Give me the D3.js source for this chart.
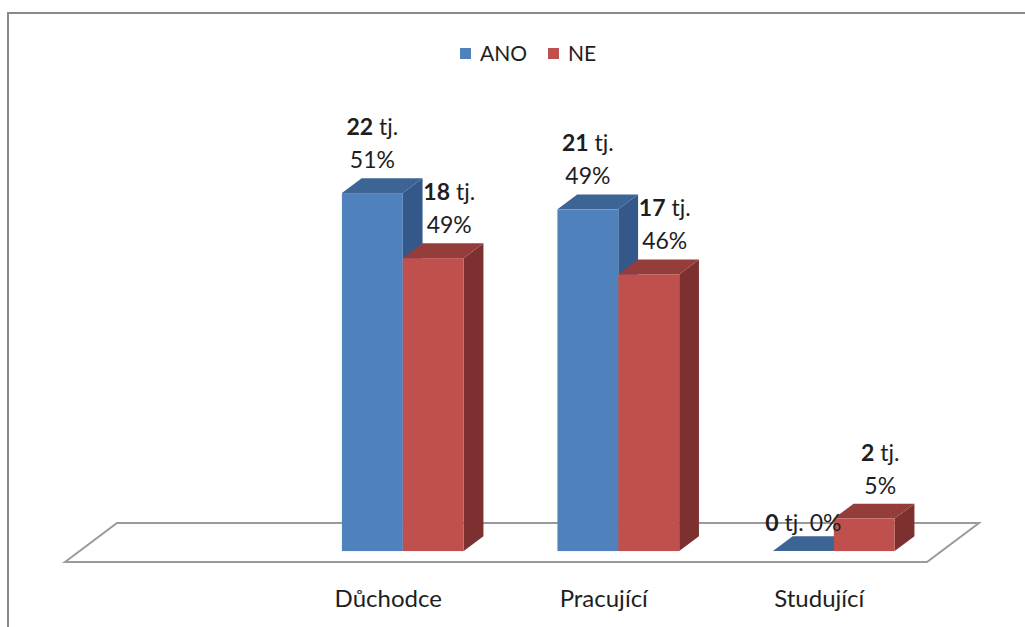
<!DOCTYPE html>
<html>
<head>
<meta charset="utf-8">
<script src="https://cdn.jsdelivr.net/npm/d3@7"></script>
<style>
  html, body { margin: 0; padding: 0; background: #ffffff; }
  svg { display: block; }
  text { font-family: Lato, "Open Sans", sans-serif; fill: #1e1e1e; }
</style>
</head>
<body>
<svg id="chart" width="1025" height="627"></svg>
<script>
// Categories (first slot is an empty category on the axis)
const categories = ["", "Důchodce", "Pracující", "Studující"];
const seriesNames = ["ANO", "NE"];
// Counts per category (people)
const anoCounts = [null, 22, 21, 0];
const neCounts  = [null, 18, 17, 2];
// Percent shares shown in the labels
const anoPct = [null, 51, 49, 0];
const nePct  = [null, 49, 46, 5];

const palette = {
  ANO: { front: "#4F81BD", top: "#3C6494", side: "#35588A" },
  NE:  { front: "#C0504D", top: "#953D3B", side: "#7C3130" }
};

const svg = d3.select("#chart");

// Outer frame
svg.append("path")
  .attr("d", "M8,640 L8,13 L1040,13")
  .attr("fill", "none")
  .attr("stroke", "#8a8a8a")
  .attr("stroke-width", 2);

// Floor geometry (front edge + depth vector)
const floorLeft = 65, floorRight = 927, floorFrontY = 562;
const depth = { dx: 52, dy: -39 };
const barDepthStart = 0.28, barDepthSize = 0.38;

const x0 = d3.scaleBand().domain(categories).range([floorLeft, floorRight]).padding(0);
const x1 = d3.scaleBand().domain(seriesNames).range([0, x0.bandwidth()]).paddingInner(0).paddingOuter(0.77);

// Value -> bar height
const h = d3.scaleLinear().domain([0, 22]).range([0, 358]);

// Floor
const floorPts = [
  [floorLeft, floorFrontY],
  [floorLeft + depth.dx, floorFrontY + depth.dy],
  [floorRight + depth.dx, floorFrontY + depth.dy],
  [floorRight, floorFrontY]
];
svg.append("path")
  .attr("d", d3.line()(floorPts) + "Z")
  .attr("fill", "#ffffff")
  .attr("stroke", "#9a9a9a")
  .attr("stroke-width", 2);

// Bars
const ox = depth.dx * barDepthStart, oy = depth.dy * barDepthStart;
const bdx = depth.dx * barDepthSize, bdy = depth.dy * barDepthSize;
const baseY = floorFrontY + oy;

const bars = [];
categories.forEach((cat, i) => {
  if (!cat) return;
  bars.push({ cat, s: "ANO", v: anoCounts[i], p: anoPct[i] });
  bars.push({ cat, s: "NE",  v: neCounts[i],  p: nePct[i] });
});

const g = svg.append("g");
bars.forEach(d => {
  const x = x0(d.cat) + x1(d.s) + ox;
  const w = x1.bandwidth();
  const top = baseY - h(d.v);
  const c = palette[d.s];
  const poly = pts => d3.line()(pts) + "Z";
  // side face
  if (d.v > 0) {
    g.append("path").attr("d", poly([[x + w, top], [x + w + bdx, top + bdy], [x + w + bdx, baseY + bdy], [x + w, baseY]]))
      .attr("fill", c.side);
  }
  // top face
  g.append("path").attr("d", poly([[x, top], [x + bdx, top + bdy], [x + w + bdx, top + bdy], [x + w, top]]))
    .attr("fill", c.top);
  // front face
  if (d.v > 0) {
    g.append("rect").attr("x", x).attr("y", top).attr("width", w).attr("height", h(d.v))
      .attr("fill", c.front);
  }
  d.cx = x + w / 2 + (d.s === "NE" ? 16 : 0);
  d.top = top;
});

// Data labels
const fs = 23;
bars.forEach(d => {
  if (d.v === 0) {
    const t = svg.append("text").attr("x", d.cx).attr("y", d.top - 20)
      .attr("text-anchor", "middle").style("font-size", fs + "px");
    t.append("tspan").attr("font-weight", "bold").text(d.v);
    t.append("tspan").text(" tj. " + d.p + "%");
    return;
  }
  const t1 = svg.append("text").attr("x", d.cx).attr("y", d.top - 58)
    .attr("text-anchor", "middle").style("font-size", fs + "px");
  t1.append("tspan").attr("font-weight", "bold").text(d.v);
  t1.append("tspan").text(" tj.");
  svg.append("text").attr("x", d.cx).attr("y", d.top - 25)
    .attr("text-anchor", "middle").style("font-size", fs + "px")
    .text(d.p + "%");
});

// Category axis labels
categories.forEach(cat => {
  if (!cat) return;
  svg.append("text")
    .attr("x", x0(cat) + x0.bandwidth() / 2)
    .attr("y", 607)
    .attr("text-anchor", "middle")
    .style("font-size", "24px")
    .text(cat);
});

// Legend
const legend = svg.append("g");
const legendItems = [{ s: "ANO", x: 460 }, { s: "NE", x: 548 }];
legendItems.forEach(it => {
  legend.append("rect").attr("x", it.x).attr("y", 48).attr("width", 11).attr("height", 11)
    .attr("fill", palette[it.s].front);
  legend.append("text").attr("x", it.x + 20).attr("y", 61)
    .style("font-size", "21px").text(it.s);
});
</script>
</body>
</html>
